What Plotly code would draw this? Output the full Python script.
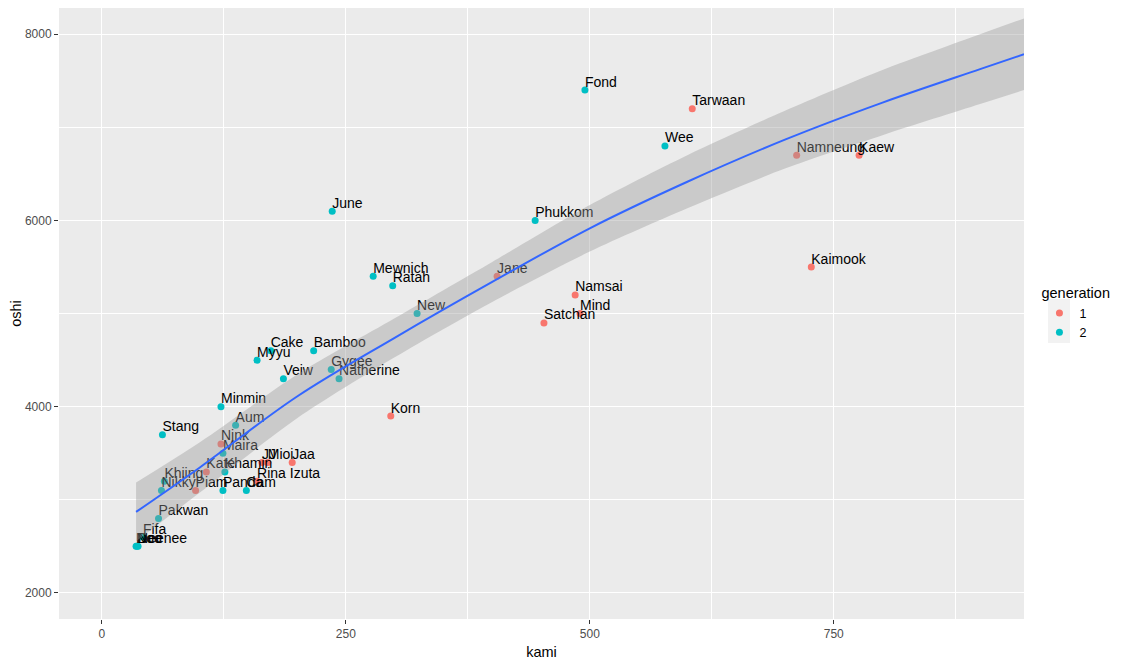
import plotly.graph_objects as go

# members: name, kami, oshi, generation
names = ["Tarwaan", "Namneung", "Kaew", "Kaimook", "Jane", "Namsai", "Mind", "Satchan",
         "Korn", "Nink", "JJ", "Mioi", "Jaa", "Kate", "Rina Izuta", "Piam",
         "Fond", "Wee", "June", "Phukkom", "Mewnich", "Ratah", "New", "Cake",
         "Bamboo", "Myyu", "Gygee", "Veiw", "Natherine", "Minmin", "Aum", "Stang",
         "Maira", "Khamin", "Khiing", "Nikky", "Panda", "Cam", "Pakwan", "Fifa",
         "Noo", "Dee", "Neenee"]
kami = [605, 712, 776, 727, 405, 485, 490, 453,
        296, 122, 164, 170, 195, 107, 159, 96,
        495, 577, 236, 444, 278, 298, 323, 173,
        217, 159, 235, 186, 243, 122, 137, 62,
        124, 126, 64, 61, 124, 148, 58, 42,
        35, 36, 37]
oshi = [7200, 6700, 6700, 5500, 5400, 5200, 5000, 4900,
        3900, 3600, 3400, 3400, 3400, 3300, 3200, 3100,
        7400, 6800, 6100, 6000, 5400, 5300, 5000, 4600,
        4600, 4500, 4400, 4300, 4300, 4000, 3800, 3700,
        3500, 3300, 3200, 3100, 3100, 3100, 2800, 2600,
        2500, 2500, 2500]
generation = [1] * 16 + [2] * 27

# smooth curve
smooth_x = [35, 100, 200, 300, 400, 500, 600, 700, 800, 900, 945]
smooth_y = [2870, 3345, 4110, 4740, 5340, 5916, 6416, 6868, 7266, 7625, 7785]
smooth_se = [315, 270, 235, 210, 215, 250, 285, 310, 350, 375, 385]

colors = {1: "#F8766D", 2: "#00BFC4"}

fig = go.Figure()

for g in [1, 2]:
    idx = [i for i, v in enumerate(generation) if v == g]
    fig.add_trace(go.Scatter(
        x=[kami[i] for i in idx],
        y=[oshi[i] for i in idx],
        mode="markers",
        marker=dict(color=colors[g], size=7),
        name=str(g),
    ))

# labels (left/bottom anchored at the point, like hjust=0, vjust=0)
fig.add_trace(go.Scatter(
    x=kami, y=oshi, text=names,
    mode="text",
    textposition="top right",
    textfont=dict(size=14, color="black"),
    showlegend=False,
    cliponaxis=False,
))

# confidence band drawn over points and labels
upper = [y + s for y, s in zip(smooth_y, smooth_se)]
lower = [y - s for y, s in zip(smooth_y, smooth_se)]
fig.add_trace(go.Scatter(
    x=smooth_x, y=lower,
    mode="lines",
    line=dict(width=0, shape="spline", smoothing=0.8),
    showlegend=False, hoverinfo="skip",
))
fig.add_trace(go.Scatter(
    x=smooth_x, y=upper,
    mode="lines", fill="tonexty",
    fillcolor="rgba(153,153,153,0.4)",
    line=dict(width=0, shape="spline", smoothing=0.8),
    showlegend=False, hoverinfo="skip",
))
fig.add_trace(go.Scatter(
    x=smooth_x, y=smooth_y,
    mode="lines",
    line=dict(color="#3366FF", width=2, shape="spline", smoothing=1),
    showlegend=False,
))

axis_common = dict(
    showgrid=True, gridcolor="white", gridwidth=1.1,
    zeroline=False, ticks="outside", ticklen=4, tickwidth=1,
    tickcolor="#333333", tickfont=dict(size=12, color="#4D4D4D"),
    showline=False,
)

# grey legend key boxes (ggplot style)
key_boxes = [
    dict(type="rect", xref="paper", yref="paper", x0=1.0249, x1=1.0477, y0=0.4877, y1=0.5237,
         fillcolor="#F2F2F2", line=dict(width=0), layer="below"),
    dict(type="rect", xref="paper", yref="paper", x0=1.0249, x1=1.0477, y0=0.4517, y1=0.4877,
         fillcolor="#F2F2F2", line=dict(width=0), layer="below"),
]

fig.update_layout(
    width=1116, height=658,
    margin=dict(l=51, r=100, t=0, b=47),
    paper_bgcolor="white",
    plot_bgcolor="#EBEBEB",
    font=dict(family="Liberation Sans, Arial, sans-serif", color="black"),
    shapes=key_boxes,
    xaxis=dict(axis_common, range=[-44, 945], tickvals=[0, 250, 500, 750],
               minor=dict(dtick=125, tick0=0, showgrid=True, gridcolor="white", gridwidth=0.5),
               title=dict(text="kami", font=dict(size=14.5), standoff=6)),
    yaxis=dict(axis_common, range=[1720, 8282], tickvals=[2000, 4000, 6000, 8000],
               minor=dict(dtick=1000, tick0=0, showgrid=True, gridcolor="white", gridwidth=0.5),
               title=dict(text="oshi", font=dict(size=14.5), standoff=6)),
    legend=dict(
        title=dict(text="generation", font=dict(size=14.5)),
        font=dict(size=12.5),
        traceorder="normal",
        x=1.016, xanchor="left", y=0.5, yanchor="middle",
        bgcolor="rgba(0,0,0,0)",
    ),
)

fig.write_html("out.html")
